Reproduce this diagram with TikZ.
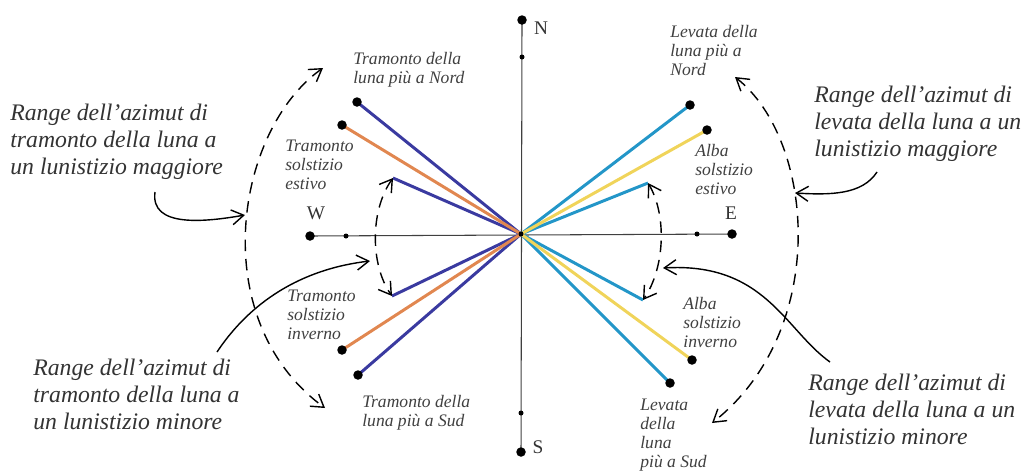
\documentclass[tikz,border=0pt]{standalone}
\usepackage{fontspec}
\setmainfont{Liberation Serif}
\usetikzlibrary{arrows.meta, backgrounds}

\definecolor{setblue}{RGB}{58,58,160}
\definecolor{setorange}{RGB}{225,135,80}
\definecolor{riseblue}{RGB}{35,150,200}
\definecolor{riseyellow}{RGB}{240,212,90}

\begin{document}
\begin{tikzpicture}[
  x=0.02cm, y=-0.02cm,
  bigdot/.style={circle, fill=black, inner sep=0pt, minimum size=0.19cm},
  smalldot/.style={circle, fill=black, inner sep=0pt, minimum size=0.1cm},
  axisline/.style={draw=black!75, line width=0.6pt},
  ray/.style={line width=1.7pt},
  notetext/.style={font=\fontsize{10}{10.8}\selectfont\itshape, text=black!75, align=left, anchor=base west, inner sep=0pt},
  rangetext/.style={font=\fontsize{13.5}{15.3}\selectfont\itshape, text=black!80, align=left, anchor=base west, inner sep=0pt},
  cardinal/.style={font=\fontsize{11}{12}\selectfont, text=black!80},
  arcdash/.style={dash pattern=on 6.5pt off 4.5pt, line width=0.8pt, arrows={Straight Barb[length=2.4mm, width=3mm]-Straight Barb[length=2.4mm, width=3mm]}},
  pointer/.style={line width=0.8pt, -{Straight Barb[length=2.4mm, width=3mm]}},
]
\useasboundingbox (0,0) rectangle (1026,471);

% Compass
\node[smalldot] (c) at (521,234) {};
\node[bigdot] (n) at (522,20) {};
\node[bigdot] (s) at (521,452) {};
\node[bigdot] (w) at (310,236) {};
\node[bigdot] (e) at (732,234) {};
\node[smalldot] (n2) at (522,57) {};
\node[smalldot] (s2) at (521,413) {};
\node[smalldot] (w2) at (346,236) {};
\node[smalldot] (e2) at (697,234) {};
\node[cardinal] (nlab) at (541,28) {N};
\node[cardinal] (slab) at (538,447) {S};
\node[cardinal] (wlab) at (316,213) {W};
\node[cardinal] (elab) at (731,213) {E};

% Moonset (west)
\node[bigdot] (wmaxn) at (357,102) {};
\node[bigdot] (wsumm) at (342,125) {};
\coordinate (wminn) at (393,178);
\coordinate (wmins) at (392,296);
\node[bigdot] (wwint) at (342,350) {};
\node[bigdot] (wmaxs) at (358,375) {};

% Moonrise (east)
\node[bigdot] (emaxn) at (690,105) {};
\node[bigdot] (esumm) at (707,130) {};
\coordinate (eminn) at (648,183);
\coordinate (emins) at (643,300);
\node[bigdot] (ewint) at (692,360) {};
\node[bigdot] (emaxs) at (670,383) {};

\begin{scope}[on background layer]
\draw[axisline] (n.center) -- (s.center);
\draw[axisline] (w.center) -- (e.center);
\draw[ray, setblue] (c.center) -- (wmaxn.center);
\draw[ray, setblue] (c.center) -- (wminn);
\draw[ray, setblue] (c.center) -- (wmins);
\draw[ray, setblue] (c.center) -- (wmaxs.center);
\draw[ray, setorange] (c.center) -- (wsumm.center);
\draw[ray, setorange] (c.center) -- (wwint.center);
\draw[ray, riseblue] (c.center) -- (emaxn.center);
\draw[ray, riseblue] (c.center) -- (eminn);
\draw[ray, riseblue] (c.center) -- (emins);
\draw[ray, riseblue] (c.center) -- (emaxs.center);
\draw[ray, riseyellow] (c.center) -- (esumm.center);
\draw[ray, riseyellow] (c.center) -- (ewint.center);
\end{scope}

% Azimuth ranges
\coordinate (wbigtop) at (323,68);
\coordinate (wbigbot) at (325,408);
\coordinate (ebigtop) at (735,77);
\coordinate (ebigbot) at (712,423);
\draw[arcdash] (wbigtop) .. controls (235,130) and (205,320) .. (wbigbot);
\draw[arcdash] (wminn) .. controls (370,210) and (370,265) .. (wmins);
\draw[arcdash] (ebigtop) .. controls (815,140) and (830,330) .. (ebigbot);
\draw[arcdash] (eminn) .. controls (667,215) and (665,268) .. (emins);

% Point labels (placed by their last baseline)
\node[notetext] (lwmaxn) at (353,83) {Tramonto della\\luna più a Nord};
\node[notetext] (lwsumm) at (285,189) {Tramonto\\solstizio\\estivo};
\node[notetext] (lwwint) at (287,339) {Tramonto\\solstizio\\inverno};
\node[notetext] (lwmaxs) at (362,426) {Tramonto della\\luna più a Sud};
\node[notetext] (lemaxn) at (670,75) {Levata della\\luna più a\\Nord};
\node[notetext] (lesumm) at (695,194) {Alba\\solstizio\\estivo};
\node[notetext] (lewint) at (683,347) {Alba\\solstizio\\inverno};
\node[notetext] (lemaxs) at (640,467) {Levata\\della\\luna\\più a Sud};

% Range labels
\node[rangetext] (tlmaj) at (10,174) {Range dell'azimut di\\tramonto della luna a\\un lunistizio maggiore};
\node[rangetext] (trmaj) at (814,156) {Range dell'azimut di\\levata della luna a un\\lunistizio maggiore};
\node[rangetext] (blmin) at (33,429) {Range dell'azimut di\\tramonto della luna a\\un lunistizio minore};
\node[rangetext] (brmin) at (808,444) {Range dell'azimut di\\levata della luna a un\\lunistizio minore};

% Pointers
\coordinate (tlfrom) at (155,192);
\coordinate (tlto) at (245,215);
\coordinate (trfrom) at (877,172);
\coordinate (trto) at (795,193);
\coordinate (blfrom) at (217,352);
\coordinate (blto) at (370,261);
\coordinate (brfrom) at (830,362);
\coordinate (brto) at (663,268);
\draw[pointer] (tlfrom) .. controls (150,228) and (205,222) .. (tlto);
\draw[pointer] (trfrom) .. controls (862,195) and (830,195) .. (trto);
\draw[pointer] (blfrom) .. controls (255,295) and (310,268) .. (blto);
\draw[pointer] (brfrom) .. controls (785,330) and (765,262) .. (brto);

\end{tikzpicture}
\end{document}
